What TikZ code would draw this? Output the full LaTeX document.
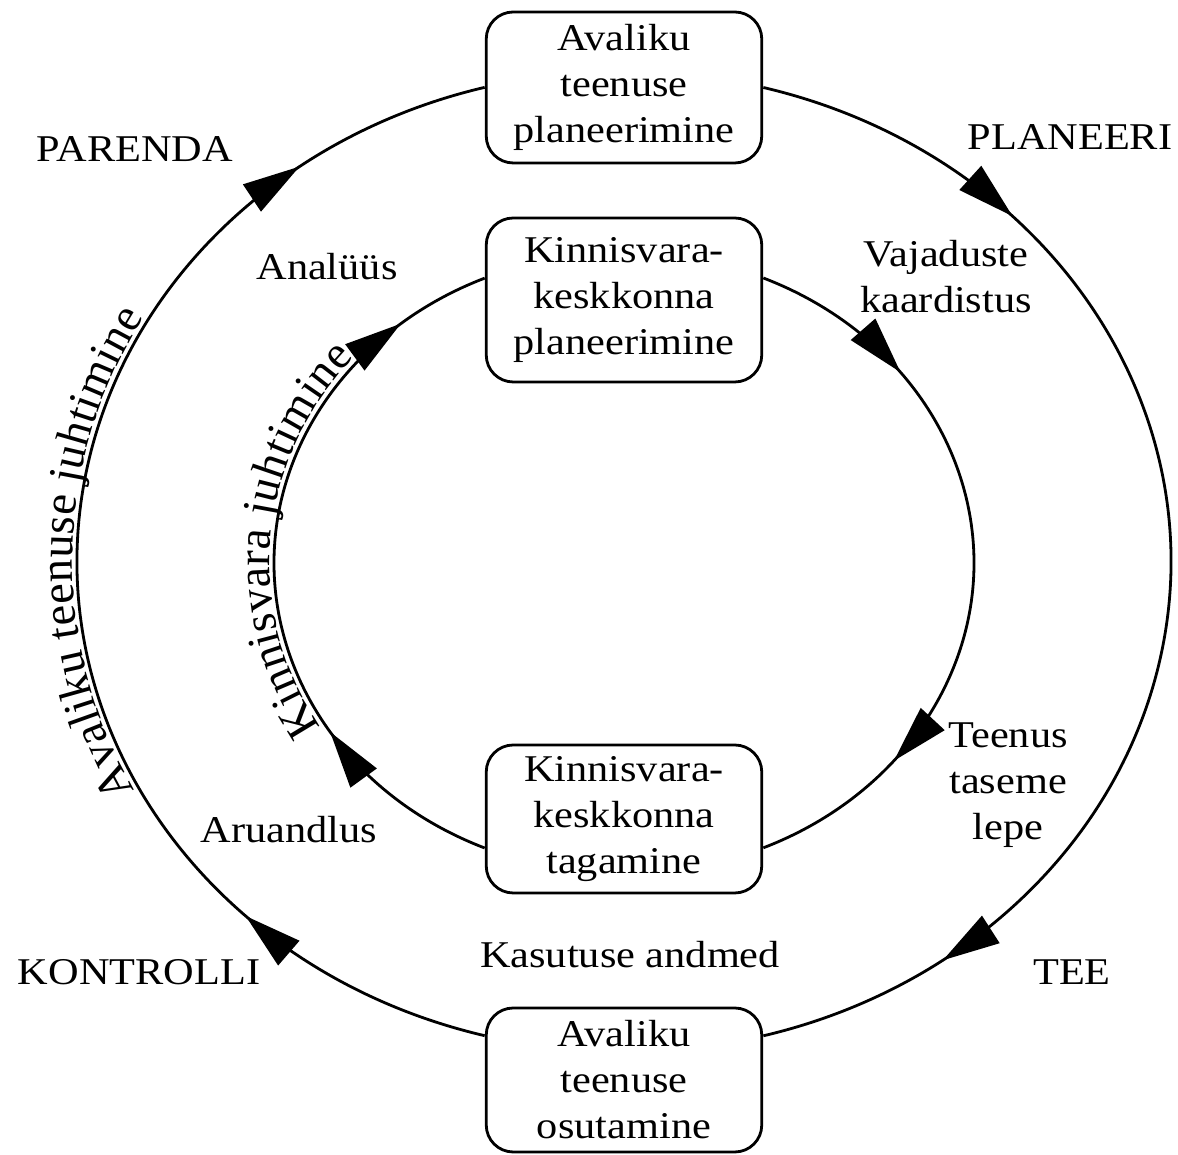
\documentclass[tikz,border=0pt]{standalone}
\usepackage{fontspec}
\setmainfont{Liberation Serif}
\usetikzlibrary{arrows.meta,decorations.markings,decorations.text}
\begin{document}
\begin{tikzpicture}[x=1pt,y=1pt,
  lbl/.style={font=\fontsize{37.8}{46}\selectfont, align=center, inner sep=0pt, xscale=1.12},
  box/.style={draw, line width=2.8pt, rounded corners=27pt, minimum width=246pt,
    font=\fontsize{37.8}{46}\selectfont, align=center, inner sep=0pt, xscale=1.12},
  loopline/.style={line width=2.8pt},
  bigtri/.tip={Triangle[length=57pt,width=32pt]},
  twoarrows/.style 2 args={decoration={markings,
      mark=at position #1 with {\arrow{bigtri}},
      mark=at position #2 with {\arrow{bigtri}}}, postaction={decorate}},
  curvetext/.style={decorate, decoration={text along path, text align=center, raise=7pt,
      text={|\fontsize{46.5}{50}\selectfont|#1}}}
]
\useasboundingbox (0,0) rectangle (1178,1155);

% boxes
\node[box, minimum height=151pt] (otop) at (624,1067.5) {Avaliku\\teenuse\\planeerimine};
\node[box, minimum height=164pt] (ktop) at (624,855) {Kinnisvara-\\keskkonna\\planeerimine};
\node[box, minimum height=148pt] (kbot) at (624,336) {Kinnisvara-\\keskkonna\\tagamine};
\node[box, minimum height=144pt] (obot) at (624,75) {Avaliku\\teenuse\\osutamine};

% outer loop
\draw[loopline, twoarrows={0.21}{0.855}] (otop.east)
  arc[start angle=75.4, end angle=-75.4, x radius=545, y radius=490];
\draw[loopline, twoarrows={0.2}{0.85}] ([yshift=44.3pt]obot.west)
  arc[start angle=-104.6, end angle=-255.4, x radius=545, y radius=490];

% inner loop
\draw[loopline, twoarrows={0.223}{0.79}] ([yshift=22pt]ktop.east)
  arc[start angle=66.8, end angle=-66.8, x radius=347.5, y radius=310];
\draw[loopline, twoarrows={0.26}{0.873}] ([yshift=-29pt]kbot.west)
  arc[start angle=-113.2, end angle=-246.8, x radius=347.5, y radius=310];

% curved labels
\coordinate (outtxt) at (172.8,319.4);
\coordinate (intxt) at (339.3,414.2);
\path[curvetext={Avaliku teenuse juhtimine}] (outtxt)
  arc[start angle=214, end angle=144, x radius=545, y radius=490];
\path[curvetext={Kinnisvara juhtimine}] (intxt)
  arc[start angle=215, end angle=136, x radius=347.5, y radius=310];

% labels
\node[lbl, anchor=base] (parenda) at (135,993) {PARENDA};
\node[lbl, anchor=base] (planeeri) at (1070,1005) {PLANEERI};
\node[lbl, anchor=base] (kontrolli) at (139,170) {KONTROLLI};
\node[lbl, anchor=base] (tee) at (1072,170) {TEE};
\node[lbl, anchor=base] (analyys) at (327,875) {Analüüs};
\node[lbl, anchor=base] (aruandlus) at (289,312) {Aruandlus};
\node[lbl, anchor=base] (kasutus) at (630,187) {Kasutuse andmed};
\node[lbl] (vaj) at (946,878) {Vajaduste\\kaardistus};
\node[lbl] (teen) at (1008,370) {Teenus\\taseme\\lepe};
\end{tikzpicture}
\end{document}
